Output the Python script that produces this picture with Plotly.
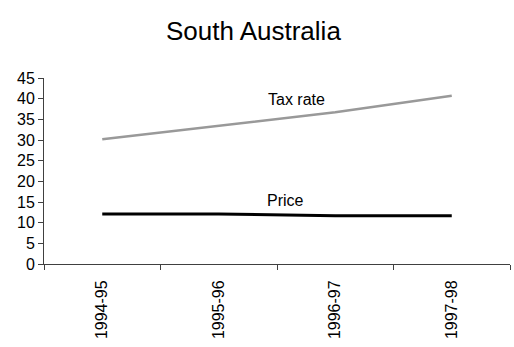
import plotly.graph_objects as go

years = ["1994-95", "1995-96", "1996-97", "1997-98"]
tax_rate = [30.2, 33.5, 36.7, 40.7]
price = [12.1, 12.1, 11.7, 11.7]

fig = go.Figure()
fig.add_trace(go.Scatter(x=years, y=tax_rate, mode="lines", name="Tax rate",
                         line=dict(color="#999999", width=2.5)))
fig.add_trace(go.Scatter(x=years, y=price, mode="lines", name="Price",
                         line=dict(color="#000000", width=3)))

fig.add_annotation(x=1.67, y=39.9, text="Tax rate", showarrow=False,
                   xref="x", yref="y", font=dict(size=16, color="black"))
fig.add_annotation(x=1.57, y=15.4, text="Price", showarrow=False,
                   xref="x", yref="y", font=dict(size=16, color="black"))

fig.update_layout(
    width=514, height=347,
    margin=dict(l=44, r=4, t=78, b=83),
    paper_bgcolor="white", plot_bgcolor="white",
    showlegend=False,
    font=dict(family="Liberation Sans, Arial, sans-serif", size=16, color="black"),
    title=dict(text="South Australia", x=0.493, xanchor="center", y=0.91, yanchor="middle",
               font=dict(size=26, color="black")),
    xaxis=dict(type="category", range=[-0.5, 3.5], tickson="boundaries",
               ticks="outside", ticklen=5, tickcolor="#404040",
               showline=True, linecolor="#404040", linewidth=1,
               showgrid=False, tickangle=-90, zeroline=False,
               ticklabelstandoff=9),
    yaxis=dict(range=[0, 45], dtick=5, ticks="outside", ticklen=5,
               tickcolor="#404040", showline=True, linecolor="#404040",
               linewidth=1, showgrid=False, zeroline=False),
)

fig.write_html("out.html")
